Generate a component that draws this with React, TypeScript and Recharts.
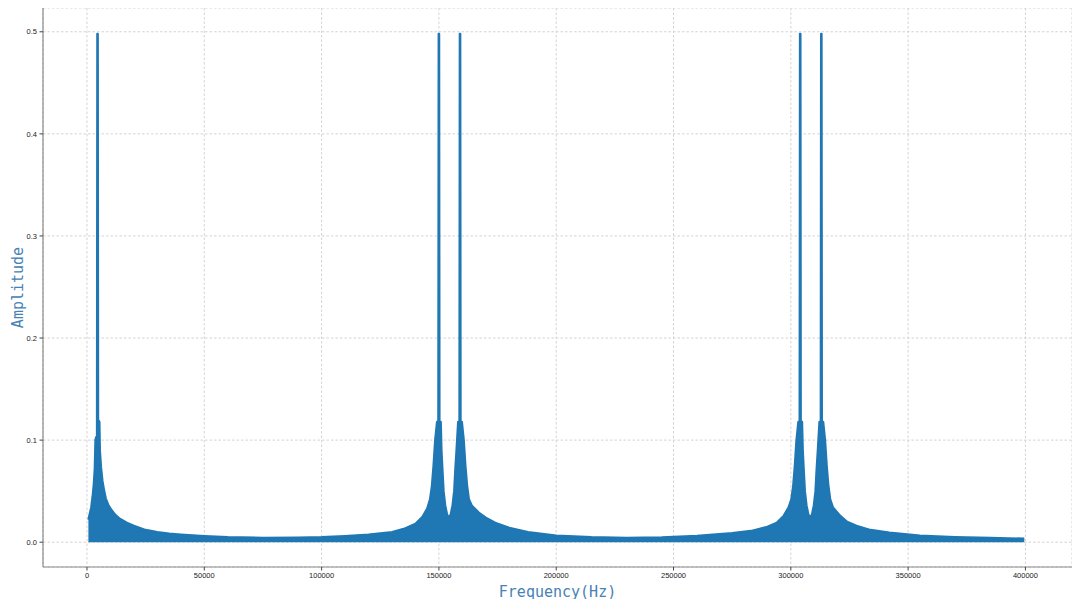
import React from "react";
import {
  Area,
  AreaChart,
  CartesianGrid,
  XAxis,
  YAxis,
} from "recharts";

// envelope of the spectrum (Hz, amplitude)
const freqHz = [
  // up to the first peak (4.5 kHz)
  600, 1200, 1800, 2400, 2900, 3300, 3600, 3900, 4250, 4400, 4600, 4750, 5300,
  5500, 6000, 6600, 7200, 8000, 9000, 10000,
  // decay, then rise to 150 kHz
  12000, 14000, 17000, 20000, 25000, 30000, 35000, 40000, 50000, 60000, 75000,
  90000, 100000, 110000, 120000, 130000, 135000, 140000, 143000, 145000,
  146200, 147000, 147700, 148400,
  // 150 kHz / 159 kHz pair
  149200, 149750, 149900, 150100, 150250, 150800, 151100, 151500, 152000,
  152700, 153500, 154200, 155000, 155800, 156500, 157000, 157500, 158200,
  158750, 158900, 159100, 159250, 159800, 160600, 161300, 162000, 162800,
  // decay, then rise to 304 kHz
  164000, 167000, 170000, 174000, 180000, 188000, 200000, 215000, 230000,
  245000, 260000, 275000, 283000, 290000, 294000, 297000, 299000, 300200,
  301000, 301700, 302400,
  // 304 kHz / 313 kHz pair
  303200, 303750, 303900, 304100, 304250, 304800, 305100, 305500, 306000,
  306700, 307500, 308200, 309000, 309800, 310500, 311000, 311500, 312200,
  312750, 312900, 313100, 313250, 313800, 314600, 315300, 316000, 316800,
  // tail
  318000, 321000, 324000, 328000, 334000, 342000, 355000, 370000, 385000,
  399500,
];

const amplitude = [
  0.022, 0.028, 0.034, 0.045, 0.057, 0.072, 0.1, 0.103, 0.103, 0.498, 0.498,
  0.12, 0.118, 0.09, 0.073, 0.06, 0.052, 0.043, 0.037, 0.033,

  0.027, 0.023, 0.019, 0.016, 0.012, 0.01, 0.0085, 0.0075, 0.006, 0.005,
  0.0043, 0.0046, 0.005, 0.006, 0.0075, 0.01, 0.013, 0.018, 0.025, 0.033,
  0.042, 0.055, 0.075, 0.1,

  0.118, 0.118, 0.498, 0.498, 0.118, 0.118, 0.09, 0.072, 0.05, 0.036, 0.027,
  0.024, 0.027, 0.036, 0.05, 0.072, 0.09, 0.118, 0.118, 0.498, 0.498, 0.118,
  0.118, 0.1, 0.075, 0.056, 0.042,

  0.036, 0.029, 0.024, 0.019, 0.014, 0.01, 0.0065, 0.005, 0.0043, 0.0048,
  0.0062, 0.0088, 0.011, 0.015, 0.019, 0.026, 0.034, 0.042, 0.055, 0.075, 0.1,

  0.118, 0.118, 0.498, 0.498, 0.118, 0.118, 0.09, 0.072, 0.05, 0.036, 0.027,
  0.024, 0.027, 0.036, 0.05, 0.072, 0.09, 0.118, 0.118, 0.498, 0.498, 0.118,
  0.118, 0.1, 0.075, 0.056, 0.042,

  0.034, 0.026, 0.02, 0.016, 0.012, 0.0095, 0.0065, 0.005, 0.0042, 0.0035,
];

const xTicks = [0, 50000, 100000, 150000, 200000, 250000, 300000, 350000, 400000];
const yTicks = [0, 0.1, 0.2, 0.3, 0.4, 0.5];

const data = freqHz.map((f, i) => ({ f, amp: amplitude[i] }));

const X_DOMAIN = [-18750, 419850];
const Y_DOMAIN = [-0.0243, 0.5233];
const LINE = "#1f77b4";
const FRAME = "#8a8a8a";
const LABEL = "#4682b4";
const tickStyle = { fontSize: 7.5, fill: "#222", fontFamily: "Liberation Sans, Arial, sans-serif" };
const labelFont = "DejaVu Sans Mono, monospace";

export default function App() {
  return (
    <div style={{ margin: -8, width: 1080, height: 607, background: "#fff" }}>
      <AreaChart
        width={1080}
        height={607}
        data={data}
        margin={{ top: 8, right: 8, left: 0, bottom: 0 }}
      >
        <CartesianGrid stroke="#d3d3d3" strokeDasharray="2.5 2" />
        <XAxis
          dataKey="f"
          type="number"
          domain={X_DOMAIN}
          ticks={xTicks}
          allowDataOverflow
          height={40}
          tick={tickStyle}
          tickSize={3.5}
          tickMargin={2}
          stroke={FRAME}
          axisLine={{ stroke: FRAME, strokeWidth: 1.2 }}
          tickLine={{ stroke: "#444" }}
          label={({ viewBox }: any) => (
            <text
              x={viewBox.x + viewBox.width / 2}
              y={597}
              textAnchor="middle"
              fill={LABEL}
              fontSize={15}
              fontFamily={labelFont}
            >
              Frequency(Hz)
            </text>
          )}
        />
        <YAxis
          type="number"
          domain={Y_DOMAIN}
          ticks={yTicks}
          allowDataOverflow
          width={43}
          tick={tickStyle}
          tickSize={3.5}
          tickMargin={2.5}
          tickFormatter={(v: number) => v.toFixed(1)}
          stroke={FRAME}
          axisLine={{ stroke: FRAME, strokeWidth: 1.2 }}
          tickLine={{ stroke: "#444" }}
          label={({ viewBox }: any) => {
            const cx = 22.5;
            const cy = viewBox.y + viewBox.height / 2;
            return (
              <text
                x={cx}
                y={cy}
                transform={`rotate(-90, ${cx}, ${cy})`}
                textAnchor="middle"
                fill={LABEL}
                fontSize={15}
                fontFamily={labelFont}
              >
                Amplitude
              </text>
            );
          }}
        />
        <XAxis
          xAxisId="top"
          orientation="top"
          type="number"
          domain={X_DOMAIN}
          allowDataOverflow
          height={0}
          tick={false}
          tickLine={false}
          axisLine={{ stroke: FRAME, strokeWidth: 1.2 }}
        />
        <YAxis
          yAxisId="right"
          orientation="right"
          type="number"
          domain={Y_DOMAIN}
          allowDataOverflow
          width={0}
          tick={false}
          tickLine={false}
          axisLine={{ stroke: FRAME, strokeWidth: 1.2 }}
        />
        <Area
          type="linear"
          dataKey="amp"
          stroke={LINE}
          strokeWidth={2.2}
          strokeLinejoin="round"
          fill={LINE}
          fillOpacity={1}
          dot={false}
          activeDot={false}
          isAnimationActive={false}
        />
      </AreaChart>
    </div>
  );
}
